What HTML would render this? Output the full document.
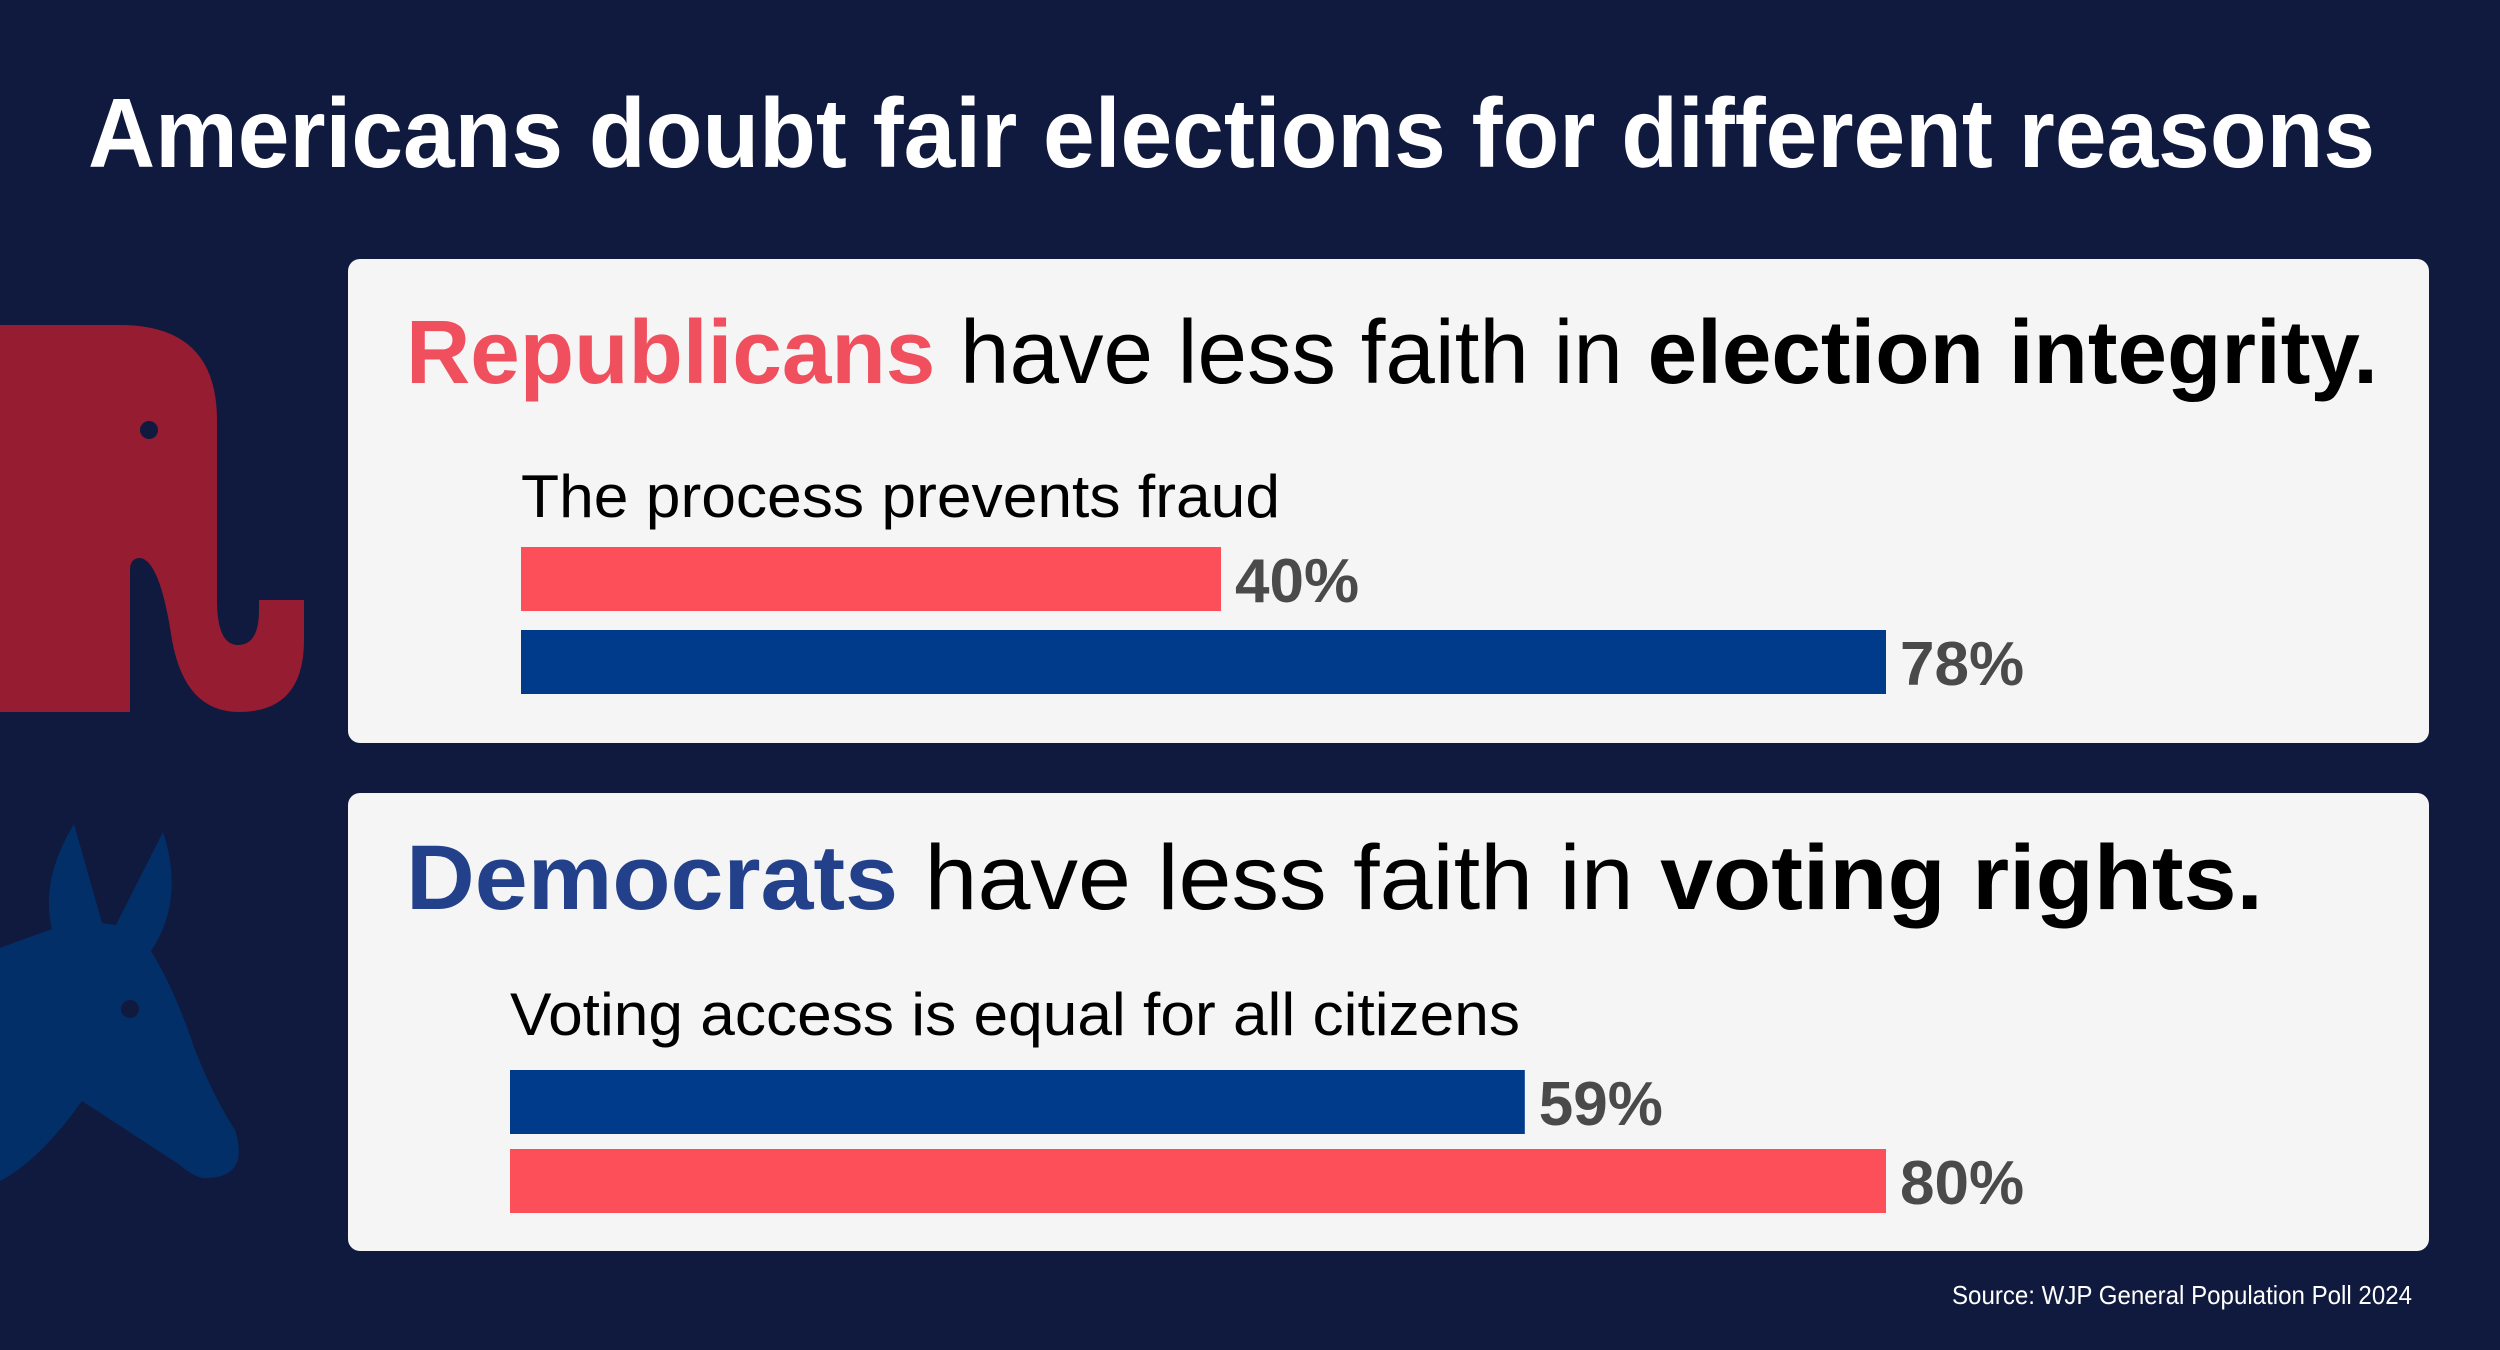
<!DOCTYPE html>
<html><head><meta charset="utf-8"><style>
html,body{margin:0;padding:0;background:#101a3f;}
svg{display:block;font-family:"Liberation Sans",sans-serif;}
</style></head><body>
<svg id="chart" width="2500" height="1350" viewBox="0 0 2500 1350">
<rect x="0" y="0" width="2500" height="1350" fill="#101a3f"/>
<text x="88" y="167" font-size="98" font-weight="bold" fill="#ffffff" textLength="2287" lengthAdjust="spacingAndGlyphs">Americans doubt fair elections for different reasons</text>
<path d="M0,325 L120,325 Q217,325 217,420 L217,600 Q217,645 238,645 Q259,645 259,610 L259,600 L304,600 L304,640 Q304,712 239,712 Q185,712 172,640 Q160,560 140,558 Q130,558 130,570 L130,712 L0,712 Z" fill="#961c31"/>
<circle cx="149" cy="430" r="9" fill="#101a3f"/>
<path d="M0,948 L52,929 Q40,880 74,824 L102,923 L116,925 L163,832 Q185,900 151,951 Q175,990 195,1050 Q215,1100 235,1130 Q250,1178 205,1178 Q195,1178 180,1165 L82,1101 Q40,1160 0,1181 Z" fill="#032f68"/>
<circle cx="130" cy="1009" r="9" fill="#101a3f"/>
<rect x="348" y="259" width="2081" height="484" rx="12" fill="#f5f5f5"/>
<rect x="348" y="793" width="2081" height="458" rx="12" fill="#f5f5f5"/>
<text x="406" y="383" font-size="90" fill="#000" textLength="1972" lengthAdjust="spacingAndGlyphs"><tspan font-weight="bold" fill="#f0505e">Republicans</tspan> have less faith in <tspan font-weight="bold">election integrity.</tspan></text>
<text x="406" y="909" font-size="92" fill="#000" textLength="1857" lengthAdjust="spacingAndGlyphs"><tspan font-weight="bold" fill="#23418a">Democrats</tspan> have less faith in <tspan font-weight="bold">voting rights.</tspan></text>
<text x="521" y="517" font-size="60" fill="#000" textLength="759" lengthAdjust="spacingAndGlyphs">The process prevents fraud</text>
<text x="510" y="1035" font-size="60" fill="#000" textLength="1010" lengthAdjust="spacingAndGlyphs">Voting access is equal for all citizens</text>
<g id="bars"></g>
<text x="2412" y="1304" font-size="26" fill="#ffffff" text-anchor="end" textLength="460" lengthAdjust="spacingAndGlyphs">Source: WJP General Population Poll 2024</text>
</svg>
<script>
const categories = ["fraud-republican","fraud-democrat","access-democrat","access-republican"];
const values = [40, 78, 59, 80];
const colors = ["#fc4f5a","#003a8a","#003a8a","#fc4f5a"];
const valueLabels = ["40%","78%","59%","80%"];
const panelOf = [0, 0, 1, 1];
const barX = [521, 521, 510, 510];
const barY = [547, 630, 1070, 1149];
const barH = 64;
const pxPerPct = [17.5, 17.2];
function xScale(v, p){ return v * pxPerPct[p]; }
const g = document.getElementById('bars');
const NS = "http://www.w3.org/2000/svg";
for (let i = 0; i < values.length; i++) {
  const w = xScale(values[i], panelOf[i]);
  const r = document.createElementNS(NS, 'rect');
  r.setAttribute('x', barX[i]);
  r.setAttribute('y', barY[i]);
  r.setAttribute('width', w);
  r.setAttribute('height', barH);
  r.setAttribute('fill', colors[i]);
  
  
  g.appendChild(r);
  const t = document.createElementNS(NS, 'text');
  t.setAttribute('x', barX[i] + w + 14);
  t.setAttribute('y', barY[i] + barH - 9);
  t.setAttribute('font-size', '62');
  t.setAttribute('font-weight', 'bold');
  t.setAttribute('fill', '#4a4a4a');
  t.textContent = valueLabels[i];
  
  
  g.appendChild(t);
}
</script>
</body></html>
